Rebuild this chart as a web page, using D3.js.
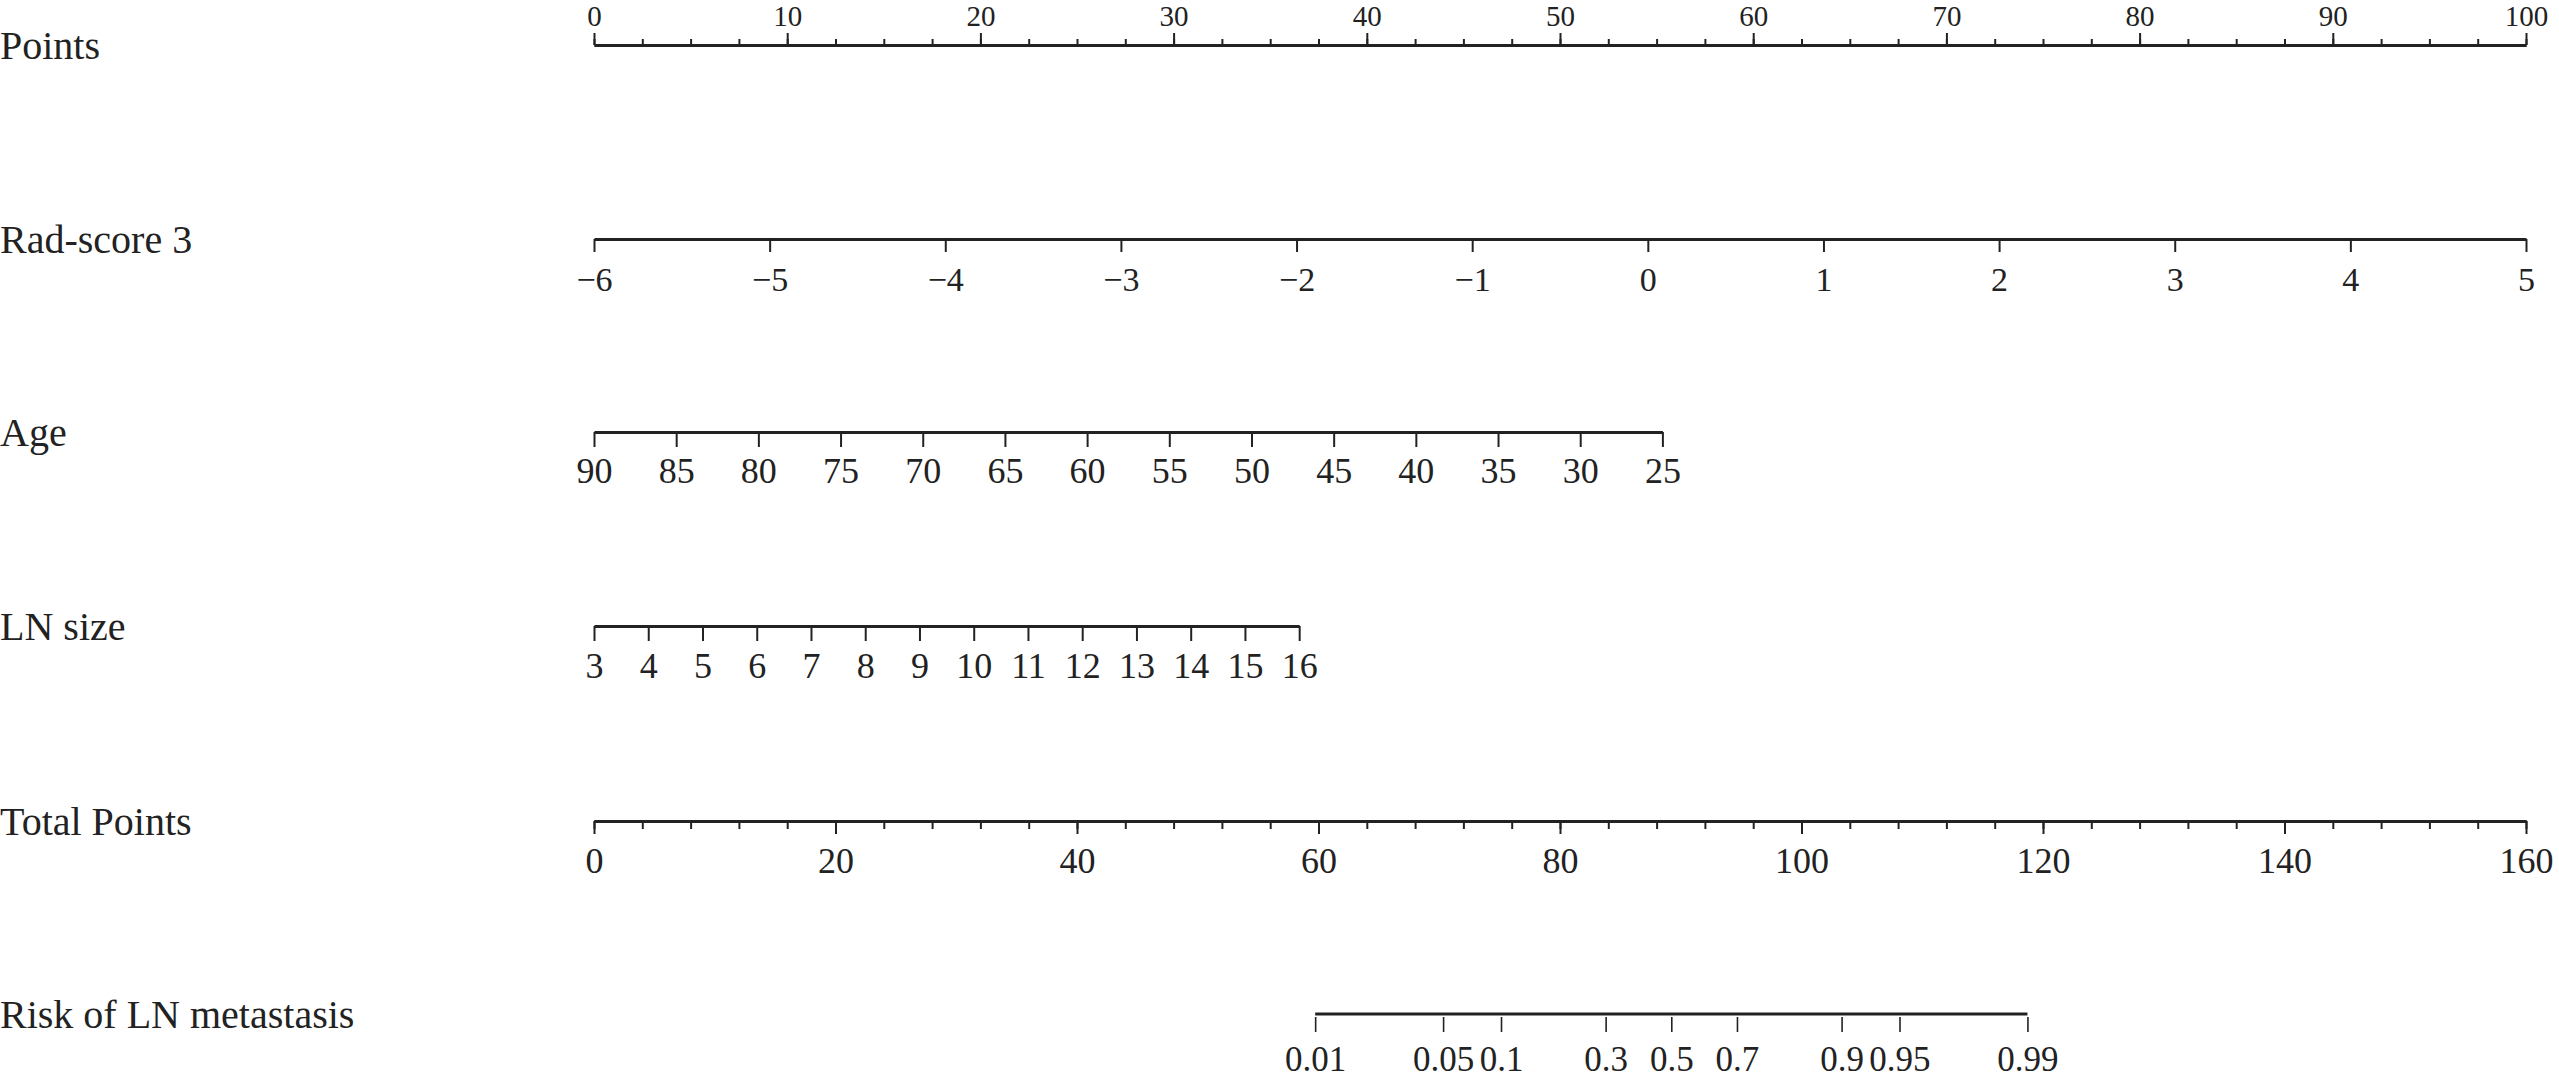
<!DOCTYPE html>
<html>
<head>
<meta charset="utf-8">
<script type="text/javascript" src="https://cdn.jsdelivr.net/npm/d3@7/dist/d3.min.js"></script>
<style>
  body { margin: 0; background: white; }
</style>
</head>
<body>
<script>

// chart values
var rowNames = ["Points", "Rad-score 3", "Age", "LN size", "Total Points", "Risk of LN metastasis"];

var pointTicks = [0, 10, 20, 30, 40, 50, 60, 70, 80, 90, 100];
var pointMinorStep = 2.5;

var radTicks = [-6, -5, -4, -3, -2, -1, 0, 1, 2, 3, 4, 5];
var radDomain = [-6, 5];
var radPoints = [0, 100];

var ageTicks = [90, 85, 80, 75, 70, 65, 60, 55, 50, 45, 40, 35, 30, 25];
var ageDomain = [90, 25];
var agePoints = [0, 55.3];

var lnTicks = [3, 4, 5, 6, 7, 8, 9, 10, 11, 12, 13, 14, 15, 16];
var lnDomain = [3, 16];
var lnPoints = [0, 36.5];

var totalTicks = [0, 20, 40, 60, 80, 100, 120, 140, 160];
var totalMinorStep = 4;

var riskTicks = [0.01, 0.05, 0.1, 0.3, 0.5, 0.7, 0.9, 0.95, 0.99];
var riskIntercept = -13.9,   // linear predictor = intercept + slope * total points
    riskSlope = 0.1558;

// layout
var width = 2559,
    height = 1079,
    axisLeft = 594,
    axisRight = 2526,
    rowY = [45, 239, 432, 626, 821, 1014],
    ink = "#222222",
    serif = "'Liberation Serif', 'Times New Roman', serif";

var svg = d3.select("body")
            .append("svg")
            .attr("width", width)
            .attr("height", height)
            .style("display", "block")
            .style("background", "white");

var pointsX = d3.scaleLinear().domain([0, 100]).range([axisLeft, axisRight]);
var radX = d3.scaleLinear().domain(radDomain).range(radPoints.map(pointsX));
var ageX = d3.scaleLinear().domain(ageDomain).range(agePoints.map(pointsX));
var lnX = d3.scaleLinear().domain(lnDomain).range(lnPoints.map(pointsX));
var totalX = d3.scaleLinear().domain([0, 160]).range([axisLeft, axisRight]);
var riskX = d3.scaleLinear()
              .domain([riskIntercept, riskIntercept + riskSlope * 160])
              .range([axisLeft, axisRight]);

logit = function(p) { return Math.log(p / (1 - p)); }

// row labels on the left
svg.selectAll("text.rowname")
   .data(rowNames)
   .enter()
   .append("text")
   .attr("class", "rowname")
   .attr("x", 0)
   .attr("y", function(d, i) { return rowY[i] + 14; })
   .style("font", "40px " + serif)
   .style("fill", ink)
   .text(function(d) { return d; });

styleAxis = function(g, fontSize) {
  g.attr("font-family", null).attr("font-size", null);
  g.select(".domain").attr("stroke", ink).attr("stroke-width", 3);
  g.selectAll(".tick line").attr("stroke", ink).attr("stroke-width", 2);
  g.selectAll(".tick text")
   .style("font", fontSize + "px " + serif)
   .attr("fill", ink);
}

bottomAxis = function(scale, ticks, y, tickLen, baseline, fontSize, fmt) {
  var ax = d3.axisBottom(scale).tickValues(ticks).tickSize(tickLen).tickSizeOuter(0);
  if (fmt) ax.tickFormat(fmt);
  var g = svg.append("g")
             .attr("transform", "translate(0," + y + ")")
             .call(ax);
  styleAxis(g, fontSize);
  g.selectAll(".tick text").attr("dy", null).attr("y", baseline);
  return g;
}

// Points (ticks above)
var pMinor = svg.append("g")
                .attr("transform", "translate(0," + rowY[0] + ")")
                .call(d3.axisTop(pointsX)
                        .tickValues(d3.range(0, 100 + 1e-9, pointMinorStep))
                        .tickSize(6).tickSizeOuter(0).tickFormat(""));
styleAxis(pMinor, 29);
var pMajor = svg.append("g")
                .attr("transform", "translate(0," + rowY[0] + ")")
                .call(d3.axisTop(pointsX)
                        .tickValues(pointTicks)
                        .tickSize(12).tickSizeOuter(0).tickPadding(7));
styleAxis(pMajor, 29);

// predictors
bottomAxis(radX, radTicks, rowY[1], 13, 52, 34);
bottomAxis(ageX, ageTicks, rowY[2], 15, 51, 36);
bottomAxis(lnX, lnTicks, rowY[3], 15, 52, 36);

// Total Points
var tMinor = svg.append("g")
                .attr("transform", "translate(0," + rowY[4] + ")")
                .call(d3.axisBottom(totalX)
                        .tickValues(d3.range(0, 160 + 1e-9, totalMinorStep))
                        .tickSize(8).tickSizeOuter(0).tickFormat(""));
styleAxis(tMinor, 36);
bottomAxis(totalX, totalTicks, rowY[4], 13, 52, 36);

// risk, ticks hang just under the line
var riskG = bottomAxis(riskX, riskTicks.map(logit), rowY[5], 18, 57, 35,
                       function(d, i) { return String(riskTicks[i]); });
riskG.select(".domain").remove();
riskG.selectAll(".tick line").attr("y1", 3).attr("stroke-width", 1.6);
riskG.append("line")
     .attr("x1", riskX(logit(riskTicks[0])))
     .attr("x2", riskX(logit(riskTicks[riskTicks.length - 1])))
     .attr("stroke", ink)
     .attr("stroke-width", 3);

</script>
</body>
</html>
